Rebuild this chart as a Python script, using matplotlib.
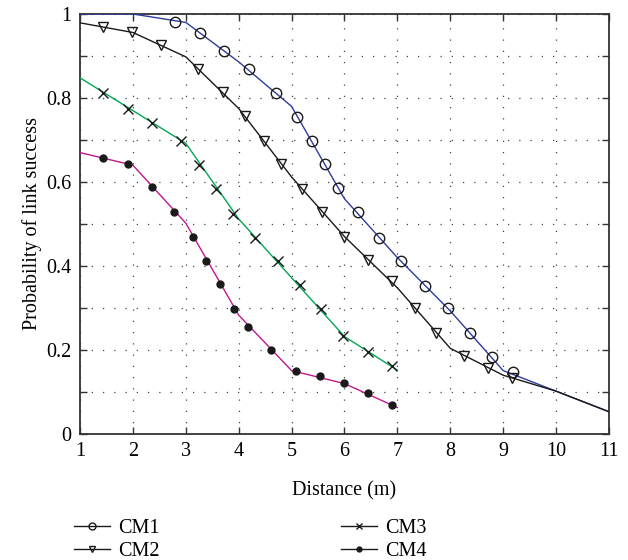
import numpy as np
import matplotlib
matplotlib.use('Agg')
import matplotlib.pyplot as plt
from matplotlib.lines import Line2D

plt.rcParams['font.family'] = ['Liberation Serif', 'DejaVu Serif']
plt.rcParams['font.size'] = 14.5

# curve break points (distance in m)
x_long = [1, 2, 3, 4, 5, 6, 7, 8, 9, 10, 11]
x_short = [1, 2, 3, 4, 5, 6, 7]

cm1_line = [1.0, 1.0, 0.98, 0.886, 0.78, 0.56, 0.42, 0.293, 0.151, 0.102, 0.053]
cm2_line = [0.979, 0.956, 0.898, 0.775, 0.612, 0.47, 0.348, 0.204, 0.14, 0.102, 0.053]
cm3_line = [0.848, 0.77, 0.692, 0.512, 0.372, 0.232, 0.152]
cm4_line = [0.67, 0.64, 0.502, 0.283, 0.151, 0.12, 0.063]

# marker positions
cm1_mx = [2.8, 3.27, 3.72, 4.19, 4.7, 5.1, 5.38, 5.63, 5.88, 6.25, 6.65, 7.06, 7.52, 7.95, 8.38, 8.78, 9.18]
cm1_my = [0.98, 0.955, 0.912, 0.868, 0.813, 0.755, 0.698, 0.642, 0.585, 0.528, 0.467, 0.412, 0.353, 0.299, 0.24, 0.184, 0.147]

cm2_mx = [1.43, 1.99, 2.53, 3.24, 3.7, 4.12, 4.48, 4.8, 5.19, 5.58, 6.0, 6.44, 6.89, 7.33, 7.73, 8.26, 8.71, 9.16]
cm2_my = [0.97, 0.958, 0.926, 0.869, 0.814, 0.757, 0.698, 0.642, 0.583, 0.528, 0.47, 0.414, 0.364, 0.299, 0.241, 0.186, 0.158, 0.133]

cm3_mx = [1.44, 1.9, 2.36, 2.91, 3.25, 3.57, 3.9, 4.31, 4.75, 5.16, 5.55, 5.98, 6.45, 6.89]
cm3_my = [0.813, 0.775, 0.74, 0.698, 0.64, 0.583, 0.525, 0.467, 0.413, 0.355, 0.297, 0.234, 0.196, 0.162]

cm4_mx = [1.44, 1.9, 2.36, 2.78, 3.13, 3.38, 3.65, 3.91, 4.17, 4.62, 5.08, 5.54, 5.99, 6.44, 6.89]
cm4_my = [0.656, 0.643, 0.587, 0.528, 0.47, 0.413, 0.356, 0.298, 0.255, 0.2, 0.15, 0.137, 0.122, 0.097, 0.069]

fig = plt.figure(figsize=(6.28, 5.6), dpi=100)
ax = fig.add_axes([0.1274, 0.225, 0.8423, 0.75])

# lines
ax.plot(x_long, cm1_line, color='#2b3d9e', lw=1.0, zorder=3)
ax.plot(x_long, cm2_line, color='#1a1a1a', lw=1.0, zorder=3)
ax.plot(x_short, cm3_line, color='#00a651', lw=1.0, zorder=3)
ax.plot(x_short, cm4_line, color='#c0188e', lw=1.0, zorder=3)

# markers
ax.plot(cm1_mx, cm1_my, 'o', ms=7.5, mfc='none', mec='#1a1a1a', mew=1.0, zorder=4)
ax.plot(cm2_mx, cm2_my, 'v', ms=7.5, mfc='none', mec='#1a1a1a', mew=1.0, zorder=4)
ax.plot(cm3_mx, cm3_my, 'x', ms=6.5, mec='#1a1a1a', mew=1.0, zorder=4)
ax.plot(cm4_mx, cm4_my, 'o', ms=5, mfc='#1a1a1a', mec='#1a1a1a', zorder=4)

ax.set_xlim(1, 11)
ax.set_ylim(0, 1)
ax.set_xticks(np.arange(1, 12, 1))
ax.set_yticks(np.arange(0, 1.01, 0.2))
ax.set_yticklabels(['0', '0.2', '0.4', '0.6', '0.8', '1'])
ax.set_yticks(np.arange(0.1, 1.0, 0.2), minor=True)

ax.tick_params(which='both', direction='in', top=True, right=True, length=5,
               width=1.0, color='#333333', labelsize=14.5, pad=6)
ax.grid(True, which='both', axis='y', linestyle=(0, (1, 8)), lw=0.9, color='#444444')
ax.grid(True, which='major', axis='x', linestyle=(0, (1, 8)), lw=0.9, color='#444444')
ax.set_axisbelow(True)
for s in ax.spines.values():
    s.set_color('#333333')
    s.set_linewidth(1.3)

ax.set_xlabel('Distance (m)', fontsize=14.5, labelpad=14)
ax.set_ylabel('Probability of link success', fontsize=14.5, labelpad=3)

# legend below the axes, black handles
h1 = Line2D([], [], color='#1a1a1a', lw=1.0, marker='o', ms=5, mfc='none')
h2 = Line2D([], [], color='#1a1a1a', lw=1.0, marker='v', ms=5, mfc='none')
h3 = Line2D([], [], color='#1a1a1a', lw=1.0, marker='x', ms=5)
h4 = Line2D([], [], color='#1a1a1a', lw=1.0, marker='o', ms=3.5)

fig.legend([h1, h2], ['CM1', 'CM2'], loc='upper left', bbox_to_anchor=(0.105, 0.087),
           frameon=False, handlelength=1.8, handletextpad=0.4, labelspacing=0.15,
           borderaxespad=0, fontsize=14.5)
fig.legend([h3, h4], ['CM3', 'CM4'], loc='upper left', bbox_to_anchor=(0.53, 0.087),
           frameon=False, handlelength=1.8, handletextpad=0.4, labelspacing=0.15,
           borderaxespad=0, fontsize=14.5)

fig.savefig('out.png', dpi=100)
